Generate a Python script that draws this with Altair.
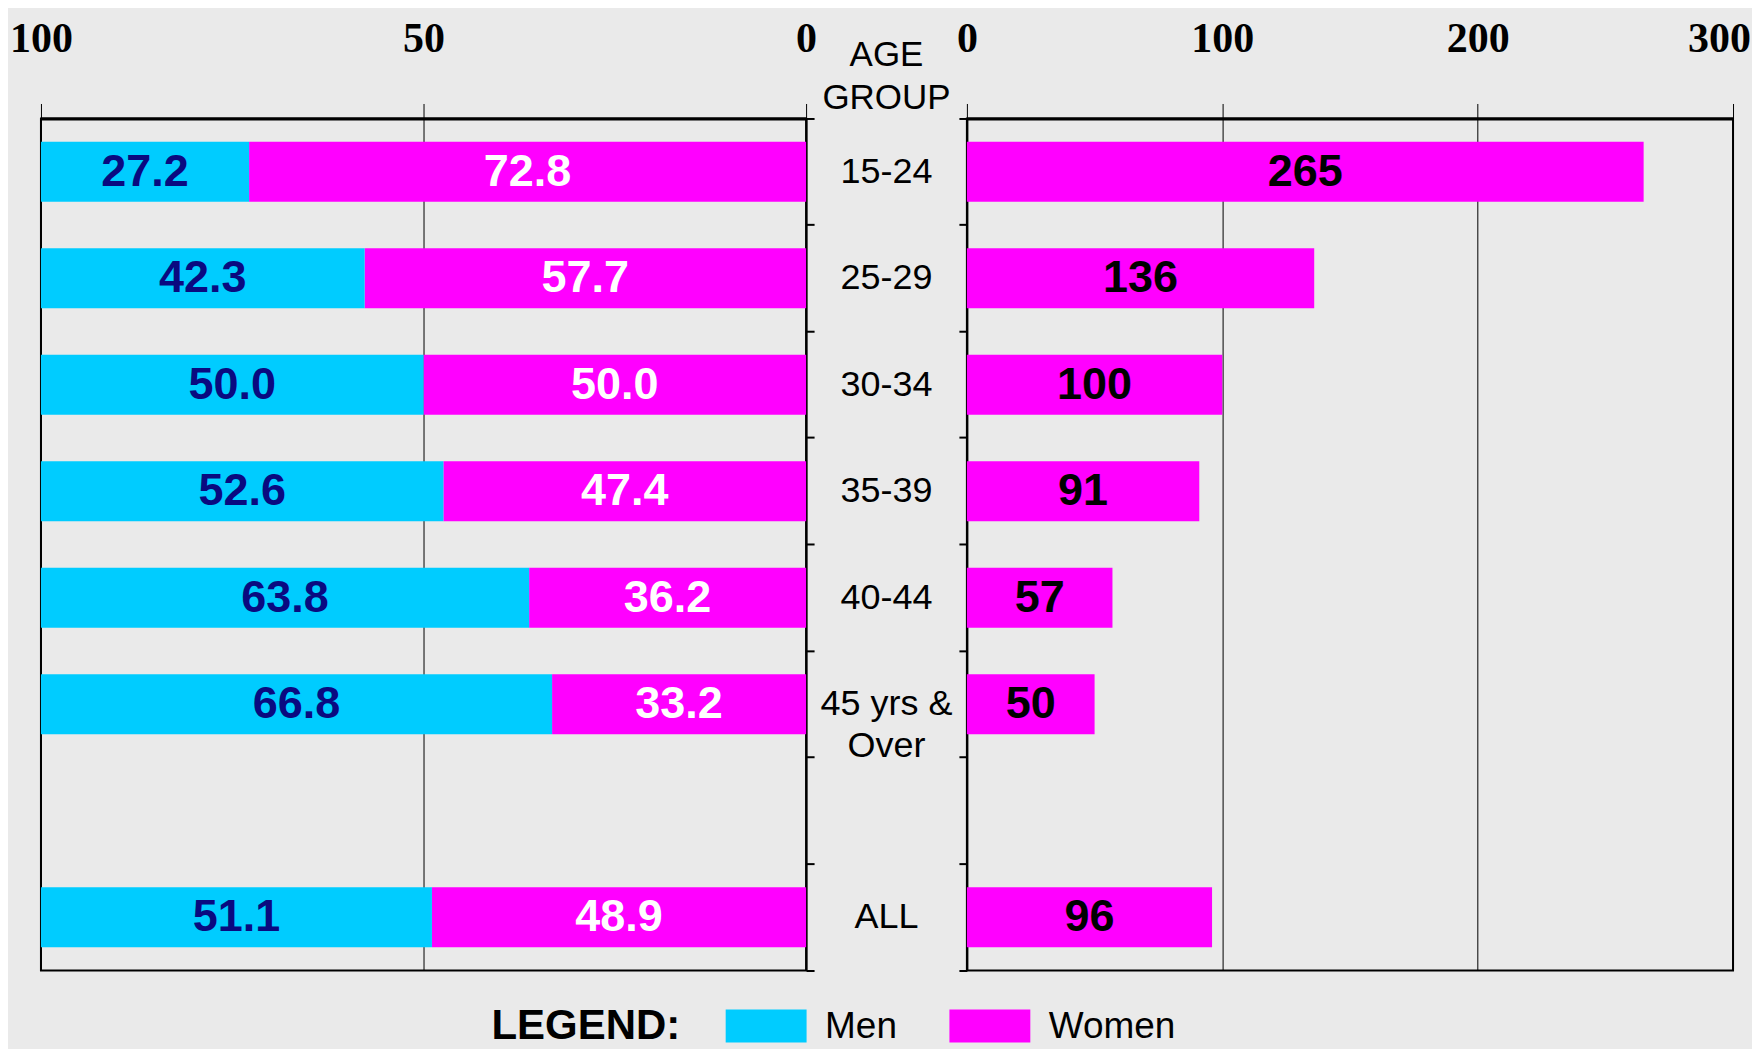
import altair as alt
import pandas as pd

# ---------------- data ----------------
groups = ["15-24", "25-29", "30-34", "35-39", "40-44", "45 yrs & Over", "ALL"]
domain_groups = ["15-24", "25-29", "30-34", "35-39", "40-44", "45 yrs & Over", " ", "ALL"]
center_labels = ["15-24", "25-29", "30-34", "35-39", "40-44", "45 yrs &\nOver", "ALL"]
men_pct = [27.2, 42.3, 50.0, 52.6, 63.8, 66.8, 51.1]
women_pct = [72.8, 57.7, 50.0, 47.4, 36.2, 33.2, 48.9]
ratio = [265, 136, 100, 91, 57, 50, 96]
left_ticks = [0, 50, 100]
right_ticks = [0, 100, 200, 300]
sexes = ["Men", "Women"]
sex_colors = ["#00CCFF", "#FF00FF"]

rows = []
for g, m, w in zip(groups, men_pct, women_pct):
    rows.append(dict(group=g, sex="Women", start=0.0, end=w, mid=w / 2, label=f"{w:.1f}"))
    rows.append(dict(group=g, sex="Men", start=w, end=w + m, mid=w + m / 2, label=f"{m:.1f}"))
left_df = pd.DataFrame(rows)

center_df = pd.DataFrame({"group": groups, "label": center_labels})
right_df = pd.DataFrame({"group": groups, "ratio": ratio, "mid": [r / 2 for r in ratio],
                         "label": [str(r) for r in ratio]})

# ---------------- styling ----------------
W_L, W_C, W_R, H = 766, 161, 767, 853
BAR = 60
BOLD = "Liberation Sans, Arial, sans-serif"
SANS = "Liberation Sans, Arial, sans-serif"
SERIF = "Liberation Serif, Times New Roman, serif"
VAL_SIZE = 45

yscale = alt.Scale(domain=domain_groups, paddingInner=0, paddingOuter=0)


def top_axis(vals, last_shift=0):
    return alt.Axis(orient="top", values=vals, format="d", title=None,
                    tickSize=15, tickColor="black", tickWidth=1,
                    domainColor="black", domainWidth=3,
                    grid=True, gridColor="black", gridWidth=1, gridOpacity=1,
                    labelFont=SERIF, labelFontWeight="bold", labelFontSize=42,
                    labelColor="black", labelPadding=43, labelFlush=False,
                    labelOffset={"condition": {"test": f"datum.value === {vals[-1]}",
                                               "value": last_shift}, "value": 0})


def side_axis(orient):
    return alt.Axis(orient=orient, labels=False, ticks=True, tickSize=8,
                    tickColor="black", tickWidth=2, bandPosition=1, tickExtra=True,
                    domain=True, domainColor="black", domainWidth=2,
                    title=None, grid=False)


legend = alt.Legend(
    title="LEGEND:", orient="none", legendX=451, legendY=890,
    direction="horizontal", columns=2, titleOrient="left",
    titleFont=SANS, titleFontSize=42, titleFontWeight="bold", titleColor="black",
    titlePadding=66, titleBaseline="middle", titleLimit=500,
    symbolType="M-2.025,-0.9H2.025V0.75H-2.025Z", symbolSize=1600,
    symbolStrokeWidth=0, symbolOpacity=1,
    labelFont=SANS, labelFontSize=37, labelColor="black", labelOffset=39,
    columnPadding=52, padding=0, labelLimit=400,
)

left_x = alt.Scale(domain=[0, 100], reverse=True, nice=False)
lx_axis = top_axis(left_ticks)
ly_axis = side_axis("right")

left_bars = alt.Chart(left_df).mark_bar(size=BAR).encode(
    x=alt.X("start:Q", scale=left_x, axis=lx_axis),
    x2="end:Q",
    y=alt.Y("group:N", scale=yscale, axis=ly_axis),
    color=alt.Color("sex:N", scale=alt.Scale(domain=sexes, range=sex_colors), legend=legend),
)
left_men_txt = alt.Chart(left_df).transform_filter(alt.datum.sex == "Men").mark_text(
    font=BOLD, fontSize=VAL_SIZE, fontWeight="bold", color="#0A0A80", baseline="middle", align="center"
).encode(
    x=alt.X("mid:Q", scale=left_x, axis=lx_axis),
    y=alt.Y("group:N", scale=yscale, axis=ly_axis),
    text="label:N",
)
left_women_txt = alt.Chart(left_df).transform_filter(alt.datum.sex == "Women").mark_text(
    font=BOLD, fontSize=VAL_SIZE, fontWeight="bold", color="white", baseline="middle", align="center"
).encode(
    x=alt.X("mid:Q", scale=left_x, axis=lx_axis),
    y=alt.Y("group:N", scale=yscale, axis=ly_axis),
    text="label:N",
)
left = alt.layer(left_bars, left_men_txt, left_women_txt).properties(
    width=W_L, height=H, view=alt.ViewBackground(stroke="black", strokeWidth=2)
)

center = alt.Chart(center_df).mark_text(
    font=SANS, fontSize=36, color="black", baseline="middle", align="center",
    lineBreak="\n", lineHeight=42,
).encode(
    x=alt.value(W_C / 2),
    y=alt.Y("group:N", scale=yscale, axis=None),
    text="label:N",
).properties(
    width=W_C, height=H,
    title=alt.TitleParams(["AGE", "GROUP"], font=SANS, fontSize=35, fontWeight="normal",
                          color="black", anchor="middle", lineHeight=44, offset=2),
    view=alt.ViewBackground(strokeWidth=0, strokeOpacity=0),
)

right_x = alt.Scale(domain=[0, 300], nice=False)
rx_axis = top_axis(right_ticks, last_shift=-14)
ry_axis = side_axis("left")
right_bars = alt.Chart(right_df).mark_bar(size=BAR, color="#FF00FF").encode(
    x=alt.X("ratio:Q", scale=right_x, axis=rx_axis),
    y=alt.Y("group:N", scale=yscale, axis=ry_axis),
)
right_txt = alt.Chart(right_df).mark_text(
    font=BOLD, fontSize=VAL_SIZE, fontWeight="bold", color="black", baseline="middle", align="center"
).encode(
    x=alt.X("mid:Q", scale=right_x, axis=rx_axis),
    y=alt.Y("group:N", scale=yscale, axis=ry_axis),
    text="label:N",
)
right = alt.layer(right_bars, right_txt).properties(
    width=W_R, height=H, view=alt.ViewBackground(stroke="black", strokeWidth=2)
)

chart = alt.hconcat(left, center, right, spacing=0, bounds="flush").resolve_scale(
    color="independent"
).resolve_legend(color="independent").properties(
    padding={"left": 0, "top": 8, "right": 0, "bottom": 0},
    background="#EAEAEA",
).configure_view(strokeWidth=0)

chart.save("out.html", embed_options={"renderer": "svg", "actions": False})
